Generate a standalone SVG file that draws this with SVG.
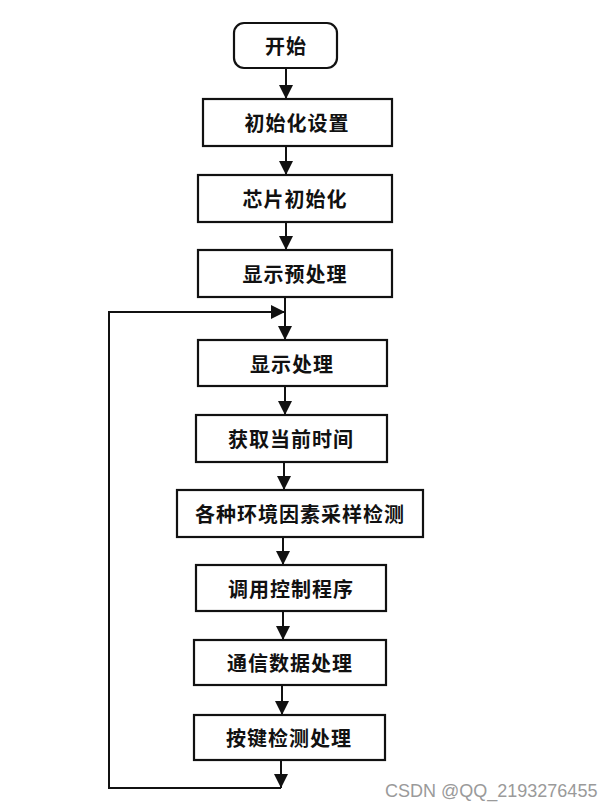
<svg xmlns="http://www.w3.org/2000/svg" width="616" height="810" viewBox="0 0 616 810">
<defs>
<marker id="ah" markerUnits="userSpaceOnUse" markerWidth="14" markerHeight="14" viewBox="0 0 14 14" refX="14" refY="7" orient="auto">
<path d="M0,0 L14,7 L0,14 Z" fill="#111"/>
</marker>
<style>
.box{fill:#fff;stroke:#111;stroke-width:2.2}
.t{font-family:"Noto Sans CJK SC","Noto Sans CJK JP",sans-serif;font-size:20px;font-weight:bold;fill:#111;text-anchor:middle;dominant-baseline:central;letter-spacing:1px}
.c{fill:none;stroke:#111;stroke-width:2;marker-end:url(#ah)}
.wm{font-family:"Liberation Sans",Arial,sans-serif;font-size:18px;fill:#9a9a9a}
</style>
</defs>
<rect width="616" height="810" fill="#fff"/>
<g id="connectors">
<line class="c" x1="286" y1="68" x2="286" y2="99"/>
<line class="c" x1="286" y1="146" x2="286" y2="175"/>
<line class="c" x1="286" y1="222" x2="286" y2="250"/>
<line class="c" x1="285" y1="297" x2="285" y2="340"/>
<line class="c" x1="285" y1="386" x2="285" y2="415"/>
<line class="c" x1="284" y1="462" x2="284" y2="490"/>
<line class="c" x1="283" y1="537" x2="283" y2="565"/>
<line class="c" x1="283" y1="611" x2="283" y2="640"/>
<line class="c" x1="282" y1="685" x2="282" y2="715"/>
<line class="c" x1="281" y1="760" x2="281" y2="788"/>
<path class="c" d="M281,788 H109 V312 H285"/>
</g>
<g id="n0"><rect class="box" x="234" y="23" width="103" height="45" rx="10"/><text class="t" x="286" y="45">开始</text></g>
<g id="n1"><rect class="box" x="203" y="99" width="189" height="47"/><text class="t" x="297" y="122">初始化设置</text></g>
<g id="n2"><rect class="box" x="198" y="175" width="194" height="47"/><text class="t" x="295" y="198">芯片初始化</text></g>
<g id="n3"><rect class="box" x="198" y="250" width="194" height="47"/><text class="t" x="295" y="273">显示预处理</text></g>
<g id="n4"><rect class="box" x="198" y="340" width="189" height="46"/><text class="t" x="292" y="363">显示处理</text></g>
<g id="n5"><rect class="box" x="196" y="415" width="191" height="47"/><text class="t" x="291" y="438">获取当前时间</text></g>
<g id="n6"><rect class="box" x="177" y="490" width="246" height="47"/><text class="t" x="300" y="513">各种环境因素采样检测</text></g>
<g id="n7"><rect class="box" x="196" y="565" width="190" height="46"/><text class="t" x="291" y="588">调用控制程序</text></g>
<g id="n8"><rect class="box" x="194" y="640" width="192" height="45"/><text class="t" x="290" y="662">通信数据处理</text></g>
<g id="n9"><rect class="box" x="194" y="715" width="191" height="45"/><text class="t" x="289" y="737">按键检测处理</text></g>
<text class="wm" x="385" y="797">CSDN @QQ_2193276455</text>
</svg>
